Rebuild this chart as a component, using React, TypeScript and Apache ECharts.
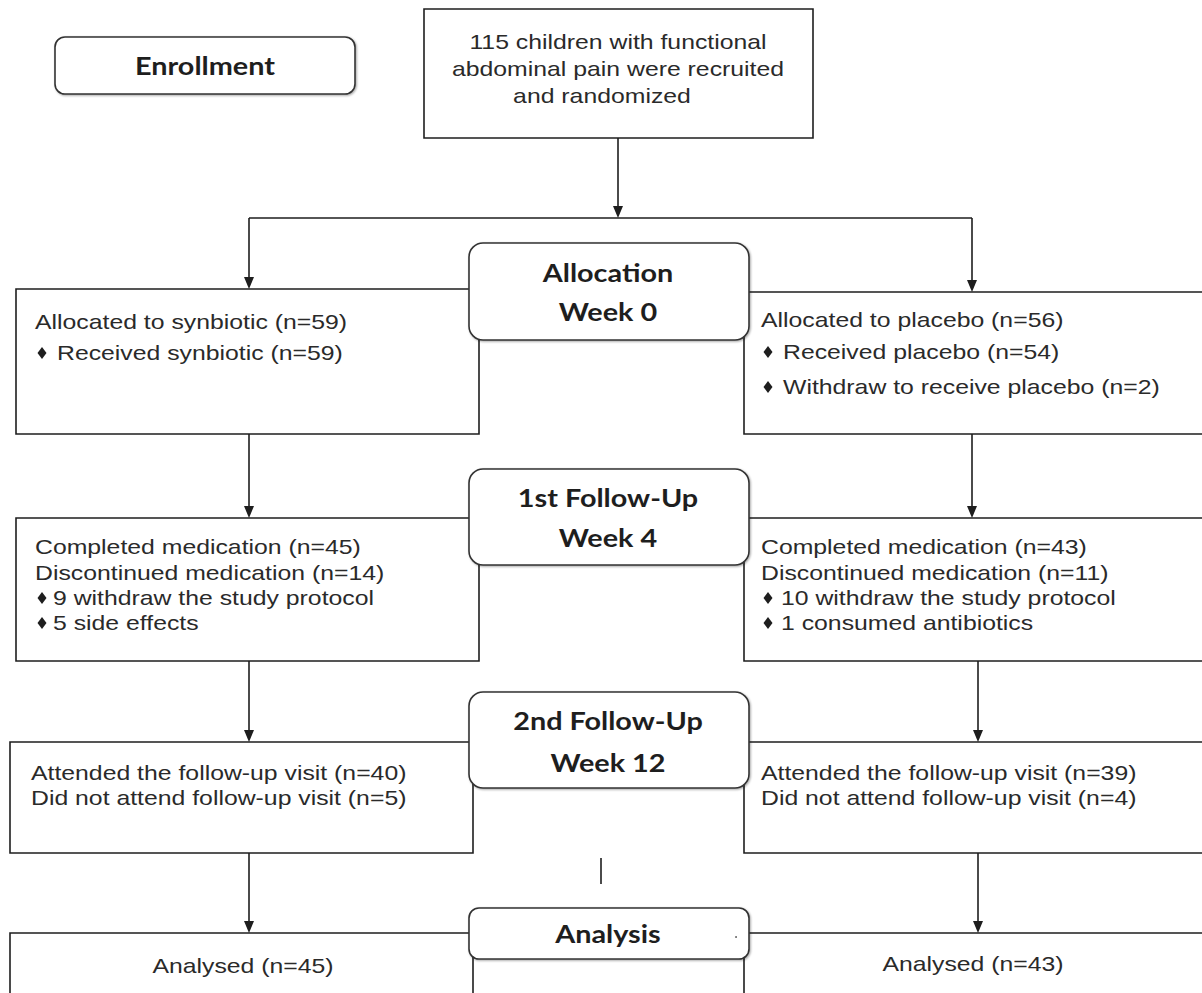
import React, { useEffect, useRef } from "react";
import * as echarts from "echarts";

// ---- content ----
const enrollmentLabel = "Enrollment";
const recruitedLines = [
  "115 children with functional",
  "abdominal pain were recruited",
  "and randomized",
];
const stageHeaders = [
  ["Allocation", "Week 0"],
  ["1st Follow-Up", "Week 4"],
  ["2nd Follow-Up", "Week 12"],
  ["Analysis"],
];
const synbioticAllocation = ["Allocated to synbiotic (n=59)", "♦ Received synbiotic (n=59)"];
const placeboAllocation = [
  "Allocated to placebo (n=56)",
  "♦ Received placebo (n=54)",
  "♦ Withdraw to receive placebo (n=2)",
];
const synbioticWeek4 = [
  "Completed medication (n=45)",
  "Discontinued medication (n=14)",
  "♦ 9 withdraw the study protocol",
  "♦ 5 side effects",
];
const placeboWeek4 = [
  "Completed medication (n=43)",
  "Discontinued medication (n=11)",
  "♦ 10 withdraw the study protocol",
  "♦ 1 consumed antibiotics",
];
const synbioticWeek12 = ["Attended the follow-up visit (n=40)", "Did not attend follow-up visit (n=5)"];
const placeboWeek12 = ["Attended the follow-up visit (n=39)", "Did not attend follow-up visit (n=4)"];
const synbioticAnalysed = ["Analysed (n=45)"];
const placeboAnalysed = ["Analysed (n=43)"];

const INK = "#1e1e1e";
const TEXT_INK = "#2a2a2a";
const BODY_FONT = "'Liberation Sans', Arial, sans-serif";
const HEAD_FONT = "Lato, 'Open Sans', sans-serif";
const SX = 1.24;
const HSX = 1.2;

function buildGraphic(): any[] {
  const g: any[] = [];
  const line = (x1: number, y1: number, x2: number, y2: number) =>
    g.push({ type: "line", z: 1, shape: { x1, y1, x2, y2 }, style: { stroke: INK, lineWidth: 1.6 } });
  const arrow = (x: number, y1: number, y2: number) => {
    line(x, y1, x, y2 - 6);
    g.push({
      type: "polygon",
      z: 3,
      shape: { points: [[x - 5, y2 - 12], [x + 5, y2 - 12], [x, y2]] },
      style: { fill: INK },
    });
  };
  const box = (x: number, y: number, w: number, h: number, z = 2) =>
    g.push({
      type: "rect",
      z,
      shape: { x, y, width: w, height: h },
      style: { fill: "#fff", stroke: INK, lineWidth: 1.6 },
    });
  const rbox = (x: number, y: number, w: number, h: number, r: number) =>
    g.push({
      type: "rect",
      z: 4,
      shape: { x, y, width: w, height: h, r },
      style: {
        fill: "#fff",
        stroke: "#333",
        lineWidth: 1.6,
        shadowColor: "rgba(0,0,0,0.35)",
        shadowBlur: 2,
        shadowOffsetX: 1,
        shadowOffsetY: 1,
      },
    });
  const text = (
    x: number,
    y: number,
    s: string,
    opt: { size?: number; font?: string; weight?: any; align?: string; sx?: number; fill?: string } = {}
  ) =>
    g.push({
      type: "text",
      z: 10,
      x,
      y,
      scaleX: opt.sx ?? SX,
      style: {
        text: s,
        fontSize: opt.size ?? 20,
        fontFamily: opt.font ?? BODY_FONT,
        fontWeight: opt.weight ?? "normal",
        fill: opt.fill ?? TEXT_INK,
        align: opt.align ?? "left",
        textAlign: opt.align ?? "left",
        verticalAlign: "middle",
        textVerticalAlign: "middle",
      },
    });
  const diamond = (cx: number, cy: number) =>
    g.push({
      type: "polygon",
      z: 10,
      shape: { points: [[cx, cy - 6], [cx + 4.5, cy], [cx, cy + 6], [cx - 4.5, cy]] },
      style: { fill: INK },
    });
  const lines = (
    arr: string[],
    x: number,
    ys: number[],
    bulletX: number,
    textAfterBullet: number
  ) => {
    arr.forEach((s, i) => {
      if (s.startsWith("♦ ")) {
        diamond(bulletX, ys[i]);
        text(textAfterBullet, ys[i], s.slice(2));
      } else {
        text(x, ys[i], s);
      }
    });
  };

  // connectors
  arrow(618, 138, 218);
  line(249, 218, 972, 218);
  arrow(249, 218, 289);
  arrow(972, 218, 292);
  arrow(249, 434, 518);
  arrow(972, 434, 518);
  arrow(249, 661, 742);
  arrow(978, 661, 742);
  arrow(249, 853, 933);
  arrow(978, 853, 933);
  line(601, 858, 601, 884);

  // enrollment
  g.push({
    type: "rect",
    z: 4,
    shape: { x: 55, y: 37, width: 300, height: 57, r: 10 },
    style: {
      fill: "#fff",
      stroke: "#333",
      lineWidth: 1.6,
      shadowColor: "rgba(0,0,0,0.35)",
      shadowBlur: 2,
      shadowOffsetX: 1,
      shadowOffsetY: 1,
    },
  });
  text(205, 66, enrollmentLabel, { size: 24, font: HEAD_FONT, weight: "bold", align: "center", sx: HSX, fill: INK });

  box(424, 9, 389, 129);
  text(618, 42, recruitedLines[0], { align: "center" });
  text(618, 69, recruitedLines[1], { align: "center" });
  text(602, 96, recruitedLines[2], { align: "center" });

  // left column
  box(16, 289, 463, 145);
  lines(synbioticAllocation, 35, [322, 353], 42, 57);
  box(16, 518, 463, 143);
  lines(synbioticWeek4, 35, [547, 573, 598, 623], 42, 53);
  box(10, 742, 463, 111);
  lines(synbioticWeek12, 31, [773, 798], 0, 0);
  box(10, 933, 463, 90);
  text(243, 966, synbioticAnalysed[0], { align: "center" });

  // right column
  box(744, 292, 470, 142);
  lines(placeboAllocation, 761, [320, 352, 387], 768, 783);
  box(744, 518, 470, 143);
  lines(placeboWeek4, 761, [547, 573, 598, 623], 768, 781);
  box(744, 742, 470, 111);
  lines(placeboWeek12, 761, [773, 798], 0, 0);
  box(744, 933, 470, 90);
  text(973, 964, placeboAnalysed[0], { align: "center" });

  // stage headers
  const hdr = [
    { y: 243, h: 97, ty: [273, 312] },
    { y: 469, h: 96, ty: [498, 538] },
    { y: 692, h: 96, ty: [721, 763] },
    { y: 908, h: 51, ty: [934] },
  ];
  hdr.forEach((hd, i) => {
    rbox(469, hd.y, 280, hd.h, i === 3 ? 10 : 14);
    stageHeaders[i].forEach((s, j) =>
      text(608, hd.ty[j], s, { size: 24, font: HEAD_FONT, weight: "bold", align: "center", sx: HSX, fill: INK })
    );
  });
  g.push({ type: "circle", z: 11, shape: { cx: 736, cy: 937, r: 0.9 }, style: { fill: "#555" } });

  return g;
}

export default function App() {
  const ref = useRef<HTMLDivElement>(null);
  useEffect(() => {
    document.body.style.margin = "0";
    const chart = echarts.init(ref.current!, null, { renderer: "svg" });
    chart.setOption({
      animation: false,
      backgroundColor: "#fff",
      graphic: { elements: buildGraphic() },
    });
    return () => chart.dispose();
  }, []);
  return <div ref={ref} style={{ width: 1202, height: 993, background: "#fff" }} />;
}
